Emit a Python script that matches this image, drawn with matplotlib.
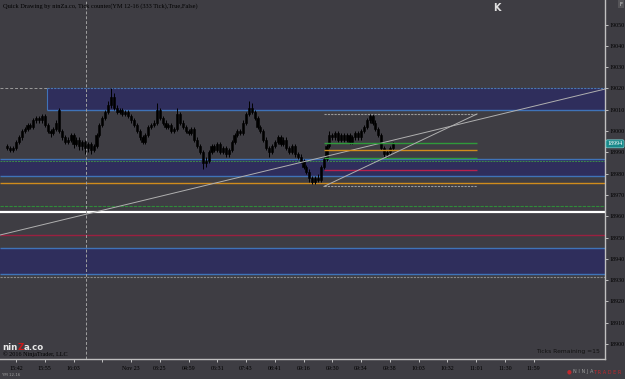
import matplotlib
matplotlib.use('Agg')
import matplotlib.pyplot as plt
from matplotlib.patches import Rectangle
from matplotlib.transforms import blended_transform_factory

# ---------------- data ----------------
opens = [
    18993, 18992, 18991, 18992, 18995, 18997, 19000, 19001, 19003, 19002,
    19005, 19006, 19005, 19007, 19003, 19000, 18999, 19001, 19010, 19000,
    18997, 18995, 18996, 18998, 18994, 18996, 18993, 18995, 18992, 18994,
    18991, 18993, 18998, 19003, 19006, 19009, 19012, 19016, 19011, 19009,
    19010, 19008, 19009, 19007, 19005, 19003, 19000, 18997, 18995, 18998,
    19002, 19003, 19004, 19010, 19006, 19004, 19002, 19003, 19000, 19001,
    19008, 19004, 19002, 19000, 18999, 19001, 18996, 18993, 18990, 18985,
    18986, 18990, 18993, 18991, 18994, 18990, 18992, 18989, 18991, 18995,
    18998, 19000, 18999, 19004, 19008, 19011, 19009, 19006, 19002, 19000,
    18996, 18992, 18990, 18993, 18995, 18997, 18994, 18996, 18992, 18990,
    18993, 18989, 18988, 18986, 18983, 18981, 18978, 18976, 18978, 18977,
    18983, 18987, 18993, 18998, 18997, 18999, 18996, 18998, 18996, 18998,
    18995, 18997, 18999, 18997, 19000, 19002, 19005, 19007, 19004, 19001,
    18998, 18992, 18989, 18990, 18992]
highs = [
    18994, 18993, 18993, 18996, 18998, 19001, 19002, 19004, 19004, 19006,
    19007, 19007, 19008, 19008, 19004, 19001, 19002, 19005, 19011, 19001,
    18998, 18997, 18999, 18999, 18997, 18997, 18996, 18996, 18995, 18995,
    18994, 18999, 19004, 19007, 19010, 19014, 19020, 19018, 19012, 19011,
    19011, 19010, 19010, 19008, 19006, 19004, 19001, 18998, 18999, 19003,
    19004, 19005, 19013, 19011, 19007, 19005, 19004, 19004, 19002, 19011,
    19009, 19005, 19003, 19001, 19002, 19002, 18997, 18994, 18991, 18988,
    18991, 18994, 18994, 18995, 18995, 18993, 18993, 18992, 18996, 18999,
    19001, 19001, 19005, 19009, 19014, 19013, 19010, 19007, 19003, 19001,
    18997, 18993, 18994, 18996, 18998, 18998, 18997, 18997, 18993, 18994,
    18994, 18990, 18989, 18987, 18984, 18982, 18979, 18979, 18980, 18984,
    18988, 18994, 19000, 18999, 19000, 19000, 18999, 18999, 18999, 18999,
    18998, 19000, 19000, 19001, 19003, 19006, 19008, 19008, 19005, 19002,
    18999, 18993, 18991, 18993, 18995]
lows = [
    18991, 18990, 18990, 18991, 18994, 18996, 18999, 19000, 19001, 19001,
    19004, 19004, 19004, 19002, 18999, 18997, 18998, 19000, 18999, 18996,
    18994, 18994, 18995, 18992, 18993, 18991, 18991, 18989, 18990, 18989,
    18990, 18992, 18997, 19002, 19005, 19008, 19011, 19010, 19008, 19008,
    19007, 19007, 19006, 19004, 19002, 18999, 18996, 18994, 18994, 18997,
    19001, 19002, 19003, 19005, 19003, 19001, 19001, 18999, 18999, 19000,
    19003, 19001, 18999, 18998, 18998, 18995, 18992, 18989, 18982, 18983,
    18985, 18989, 18990, 18990, 18989, 18989, 18988, 18988, 18990, 18994,
    18997, 18998, 18998, 19003, 19007, 19008, 19005, 19001, 18999, 18995,
    18991, 18988, 18989, 18992, 18994, 18993, 18993, 18991, 18989, 18989,
    18988, 18987, 18985, 18982, 18980, 18976, 18975, 18975, 18976, 18976,
    18982, 18986, 18992, 18996, 18996, 18995, 18995, 18995, 18995, 18994,
    18994, 18996, 18996, 18996, 18999, 19001, 19004, 19003, 19000, 18997,
    18991, 18988, 18988, 18989, 18991]
closes = [
    18992, 18991, 18992, 18995, 18997, 19000, 19001, 19003, 19002, 19005,
    19006, 19005, 19007, 19003, 19000, 18999, 19001, 19004, 19000, 18997,
    18995, 18996, 18998, 18994, 18996, 18993, 18995, 18992, 18994, 18991,
    18993, 18998, 19003, 19006, 19009, 19012, 19016, 19011, 19009, 19010,
    19008, 19009, 19007, 19005, 19003, 19000, 18997, 18995, 18998, 19002,
    19003, 19004, 19010, 19006, 19004, 19002, 19003, 19000, 19001, 19008,
    19004, 19002, 19000, 18999, 19001, 18996, 18993, 18990, 18985, 18986,
    18990, 18993, 18991, 18994, 18990, 18992, 18989, 18991, 18995, 18998,
    19000, 18999, 19004, 19008, 19011, 19009, 19006, 19002, 19000, 18996,
    18992, 18990, 18993, 18995, 18997, 18994, 18996, 18992, 18990, 18993,
    18989, 18988, 18986, 18983, 18981, 18978, 18976, 18978, 18977, 18983,
    18987, 18993, 18998, 18997, 18999, 18996, 18998, 18996, 18998, 18995,
    18997, 18999, 18997, 19000, 19002, 19005, 19007, 19004, 19001, 18998,
    18992, 18989, 18990, 18992, 18994]

time_labels = ['15:42', '15:55', '16:03', '', 'Nov 23', '03:25', '04:59', '06:31',
               '07:43', '08:41', '09:16', '09:30', '09:34', '09:38', '10:03',
               '10:32', '11:01', '11:30', '11:59']
time_tick_bars = [3, 13, 23, 33, 43, 53, 63, 73, 83, 93, 103, 113, 123, 133,
                  143, 153, 163, 173, 183]
price_ticks = [18900, 18910, 18920, 18930, 18940, 18950, 18960, 18970, 18980,
               18990, 19000, 19010, 19020, 19030, 19040, 19050]
last_price = 18994

# zones (price low, price high)
zone_upper = (19010, 19020)
zone_mid = (18979, 18987)
zone_low = (18933, 18945)
# horizontal levels
orange_level = 18975.5
green_level = 18965
white_level = 18962
red_level = 18951
grey_level = 18931.5
crosshair_price = 19020
# fib tool
fib_top, fib_bottom = 19008, 18974
fib_levels = [18994.5, 18991, 18987.5, 18981.5]
fib_colors = ['#2f9a3a', '#d08c1c', '#2f9a3a', '#b8204c']
# long trend line (price at left and right edge)
trend_left, trend_right = 18951.2, 19019.7

# ---------------- layout ----------------
BG = '#3e3d43'
fig = plt.figure(figsize=(6.25, 3.79), dpi=100, facecolor=BG)
ax = fig.add_axes([0, 20 / 379, 605 / 625, 359 / 379])
ax.set_facecolor(BG)

def px2bar(px):
    return (px - 7.4) / 2.875

X0, X1 = px2bar(0), px2bar(605)
ax.set_xlim(X0, X1)
ax.set_ylim(18893.0, 19061.5)

ZFILL = '#2f2e5c'
ZEDGE = '#3f73b8'

# zones
zx = px2bar(47)
ax.add_patch(Rectangle((zx, zone_upper[0]), X1 - zx, zone_upper[1] - zone_upper[0],
                       facecolor=ZFILL, edgecolor='none', zorder=1))
ax.hlines(zone_upper[1], zx, X1, colors='#4a78b0', lw=0.8, linestyles=(0, (2, 1)), zorder=2)
ax.hlines(zone_upper[0], zx, X1, colors=ZEDGE, lw=1.0, zorder=2)
ax.vlines(zx, zone_upper[0], zone_upper[1], colors=ZEDGE, lw=0.8, zorder=2)

for lo, hi in (zone_mid, zone_low):
    ax.add_patch(Rectangle((X0, lo), X1 - X0, hi - lo, facecolor=ZFILL,
                           edgecolor='none', zorder=1))
    ax.hlines([lo, hi], X0, X1, colors=ZEDGE, lw=1.0, zorder=2)
ax.hlines(zone_mid[1] - 1, X0, X1, colors='#3c8a4a', lw=0.7, linestyles=(0, (2, 1)), zorder=2)

# horizontal levels
ax.hlines(orange_level, X0, X1, colors='#d08c1c', lw=1.0, zorder=2)
ax.hlines(green_level, X0, X1, colors='#2f8a3a', lw=0.8, linestyles=(0, (3, 1)), zorder=2)
ax.hlines(white_level, X0, X1, colors='#ffffff', lw=1.6, zorder=2)
ax.hlines(red_level, X0, X1, colors='#9a2040', lw=1.0, zorder=2)
ax.hlines(grey_level, X0, X1, colors='#8a8a8a', lw=0.8, linestyles=(0, (2, 1)), zorder=2)
ax.hlines(crosshair_price, X0, zx, colors='#9a9a9a', lw=0.7, linestyles=(0, (3, 2)), zorder=2)

# crosshair vertical
ax.axvline(px2bar(86), color='#a0a0a0', lw=0.7, ls=(0, (3, 2)), zorder=2)

# candles
for i in range(len(closes)):
    o, h, l, c = opens[i], highs[i], lows[i], closes[i]
    ax.vlines(i, l, h, colors='#000000', lw=0.7, zorder=3)
    bot = min(o, c)
    ht = max(abs(c - o), 0.35)
    ax.add_patch(Rectangle((i - 0.38, bot), 0.76, ht, facecolor='#000000',
                           edgecolor='#000000', lw=0.4, zorder=3))

# long trend line
ax.plot([X0, X1], [trend_left, trend_right], color='#b0b0b0', lw=0.7, zorder=4)

# fib tool
fx0, fx1 = px2bar(324), px2bar(477)
ax.hlines([fib_top, fib_bottom], fx0, fx1, colors='#9a9a9a', lw=0.8,
          linestyles=(0, (2, 1)), zorder=4)
for lv, col in zip(fib_levels, fib_colors):
    ax.hlines(lv, fx0, fx1, colors=col, lw=1.0, zorder=4)
ax.plot([fx0, fx1], [fib_bottom, fib_top], color='#b0b0b0', lw=0.7, zorder=4)

# axes styling
for s in ('left', 'top'):
    ax.spines[s].set_visible(False)
for s in ('right', 'bottom'):
    ax.spines[s].set_color('#c0c0c0')
    ax.spines[s].set_linewidth(1.0)
ax.yaxis.tick_right()
ax.set_yticks(price_ticks)
ax.set_yticklabels([str(p) for p in price_ticks])
ax.set_xticks(time_tick_bars)
ax.set_xticklabels(time_labels)
ax.tick_params(axis='y', right=True, left=False, length=2.5, width=0.7,
               color='#c0c0c0', pad=1, labelsize=4.3, labelcolor='#000000')
ax.tick_params(axis='x', length=2.5, width=0.7, color='#c0c0c0', pad=2.5,
               labelsize=4.3, labelcolor='#000000')
for lab in ax.get_xticklabels() + ax.get_yticklabels():
    lab.set_family('Liberation Serif')

# price flag
tr = blended_transform_factory(ax.transAxes, ax.transData)
ax.text(1.004, last_price, str(last_price), transform=tr, fontsize=4.3,
        color='white', family='Liberation Serif', va='center', ha='left',
        bbox=dict(boxstyle='round,pad=0.25', fc='#18898a', ec='#7fd0d0', lw=0.5),
        zorder=6, clip_on=False)

# texts
def fx(px):
    return px / 625

def fy(py):
    return 1 - py / 379

fig.text(fx(3), fy(6), 'Quick Drawing by ninZa.co, Tick counter(YM 12-16 (333 Tick),True,False)',
         fontsize=4.6, family='Liberation Serif', color='#000000', va='center', ha='left')

fig.canvas.draw()
renderer = fig.canvas.get_renderer()

def chain(parts, x, y, **kw):
    for txt, col in parts:
        t = fig.text(fx(x), fy(y), txt, color=col, va='center', ha='left', **kw)
        bb = t.get_window_extent(renderer)
        x += bb.width

chain([('nin', '#e8e8e8'), ('Z', '#d01818'), ('a.co', '#e8e8e8')], 2, 347,
      fontsize=6.2, family='DejaVu Sans', fontweight='bold')
fig.text(fx(3), fy(354), '\u00a9 2016 NinjaTrader, LLC', fontsize=4.4,
         family='Liberation Serif', color='#000000', va='center', ha='left')
fig.text(fx(600), fy(352), 'Ticks Remaining =15', fontsize=4.3,
         family='DejaVu Sans', color='#111111', va='center', ha='right')
fig.text(fx(2), fy(375), 'YM 12-16', fontsize=2.8, family='DejaVu Sans',
         color='#a0a0a0', va='center', ha='left')
fig.text(fx(567), fy(372), '\u25cf', fontsize=4, color='#c0282d', va='center', ha='left')
chain([('N I N J A', '#9a9a9a'), ('T R A D E R', '#c0282d')], 573, 372,
      fontsize=3.6, family='DejaVu Sans')

# top-right icons
fig.text(fx(497), fy(8), 'K', fontsize=7, fontweight='bold', color='#e0e0e0',
         family='DejaVu Sans', va='center', ha='center')
fig.text(fx(621), fy(4), 'F', fontsize=4, color='#d0d0d0', family='DejaVu Sans',
         va='center', ha='center',
         bbox=dict(boxstyle='square,pad=0.2', fc='#555458', ec='none'))

fig.savefig('out.png', dpi=100, facecolor=BG)
